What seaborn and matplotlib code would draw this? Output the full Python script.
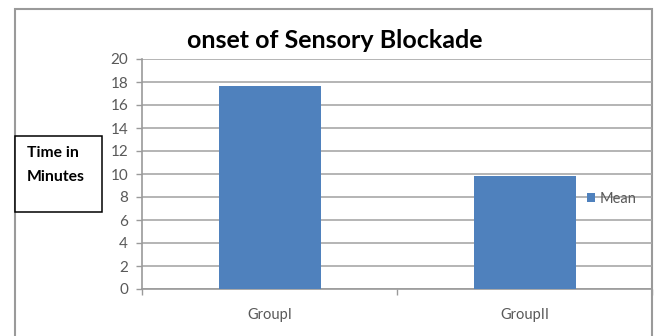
import matplotlib
matplotlib.use("Agg")
import matplotlib.pyplot as plt
from matplotlib.patches import Rectangle
import seaborn as sns
import pandas as pd

# ---- data ----
groups = ["GroupI", "GroupII"]
means = [17.65, 9.85]
series_name = "Mean"
title = "onset of Sensory Blockade"
ylabel_text = "Time in\nMinutes"
yticks = [0, 2, 4, 6, 8, 10, 12, 14, 16, 18, 20]

sns.set_theme(style="white")
plt.rcParams['font.family'] = ['Lato', 'DejaVu Sans']

W, H = 657, 336
fig = plt.figure(figsize=(W / 100, H / 100), dpi=100)
fig.patch.set_facecolor("white")

# outer chart frame
fig.add_artist(Rectangle((15 / W, -0.05), (652 - 15) / W, 1.05 - 9 / H,
                         transform=fig.transFigure, facecolor="none",
                         edgecolor="#9a9a9a", lw=1.5, zorder=0))

ax = fig.add_axes([142 / W, 1 - 289 / H, (652 - 142) / W, (289 - 59) / H])
df = pd.DataFrame({"group": groups, "value": means, "series": [series_name] * len(groups)})
sns.barplot(data=df, x="group", y="value", hue="series", palette=["#4F81BD"],
            width=0.4, ax=ax, zorder=3, saturation=1, linewidth=0)

ax.set_xlim(-0.5, len(groups) - 0.5)
ax.set_ylim(0, 20)
ax.set_yticks(yticks)
ax.set_xlabel("")
ax.set_ylabel("")
ax.set_facecolor("none")
ax.yaxis.grid(True, color="#a8a8a8", lw=1.2, zorder=0)
ax.xaxis.grid(False)
for s in ["top", "right"]:
    ax.spines[s].set_visible(False)
for s in ["left", "bottom"]:
    ax.spines[s].set_color("#9a9a9a")
    ax.spines[s].set_linewidth(1.2)

ax.tick_params(axis="y", left=True, length=4, width=1, color="#9a9a9a",
               labelsize=11, labelcolor="#595959", pad=6)
ax.tick_params(axis="x", bottom=False, labelsize=10.5, labelcolor="#595959", pad=8)
ax.set_xticks([i - 0.5 for i in range(len(groups) + 1)], minor=True)
ax.tick_params(axis="x", which="minor", bottom=True, length=4, width=1, color="#9a9a9a")

fig.text(335 / W, 1 - 40 / H, title, fontsize=18, fontweight="bold",
         ha="center", va="center", color="black")

leg = ax.legend(loc="center left", bbox_to_anchor=(587 / W, 1 - 199 / H),
                bbox_transform=fig.transFigure, frameon=False,
                handlelength=0.55, handleheight=0.55, handletextpad=0.3,
                fontsize=10.5, borderpad=0, borderaxespad=0)
for t in leg.get_texts():
    t.set_color("#595959")

# y-label box
fig.add_artist(Rectangle((15 / W, 1 - 212 / H), (102 - 15) / W, (212 - 136) / H,
                         transform=fig.transFigure, facecolor="white",
                         edgecolor="black", lw=1.1, zorder=5))
lines = ylabel_text.split("\n")
for i, ln in enumerate(lines):
    fig.text(27 / W, 1 - (153 + 24 * i) / H, ln, fontsize=11.3, fontweight="bold",
             ha="left", va="center", color="black", zorder=6)

fig.savefig("out.png", dpi=100)
